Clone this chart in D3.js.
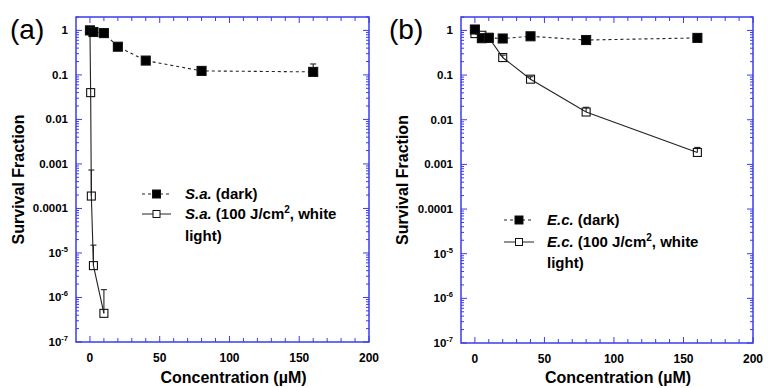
<!DOCTYPE html>
<html>
<head>
<meta charset="utf-8">
<script src="https://cdn.jsdelivr.net/npm/d3@7"></script>
<style>
html,body{margin:0;padding:0;background:#fff;}
svg{display:block;font-family:"Liberation Sans",Arial,sans-serif;}
</style>
</head>
<body>
<svg id="chart" width="768" height="388"></svg>
<script>
// ---- Data ----
const concA_dark = [0, 2.5, 10, 20, 40, 80, 160];
const survA_dark = [1.0, 0.92, 0.87, 0.43, 0.21, 0.123, 0.117];
const upA_dark   = [null, null, null, null, null, null, 0.176];

const concA_light = [0, 0.5, 1, 2.5, 10];
const survA_light = [1.0, 0.04, 0.00019, 5.2e-6, 4.4e-7];
const upA_light   = [null, null, 0.00073, 1.5e-5, 1.5e-6];

const concB = [0, 5, 10, 20, 40, 80, 160];
const survB_dark  = [1.05, 0.67, 0.68, 0.66, 0.74, 0.61, 0.68];
const upB_dark    = [null, null, null, null, null, null, null];
const survB_light = [0.85, 0.78, 0.70, 0.247, 0.081, 0.0149, 0.00185];
const upB_light   = [null, null, null, 0.28, 0.092, 0.019, 0.0024];

const xTicks = [0, 50, 100, 150, 200];
const yTicks = [1, 0.1, 0.01, 0.001, 0.0001, 1e-5, 1e-6, 1e-7];
const yTickLabels = ["1", "0.1", "0.01", "0.001", "0.0001", "10|-5", "10|-6", "10|-7"];

const panels = [
  {label: "(a)", abbr: "S.a.", left: 76, right: 369, top: 17, bottom: 342,
   labelX: 10, ytitleX: 24,
   dark: {x: concA_dark, y: survA_dark, up: upA_dark},
   light: {x: concA_light, y: survA_light, up: upA_light},
   legend: {x1: 142, x2: 171, tx: 185, y1: 194, y2: 214, b1: 199, b2: 219, b3: 241}},
  {label: "(b)", abbr: "E.c.", left: 461, right: 753, top: 17, bottom: 343,
   labelX: 389, ytitleX: 408,
   dark: {x: concB, y: survB_dark, up: upB_dark},
   light: {x: concB, y: survB_light, up: upB_light},
   legend: {x1: 504, x2: 534, tx: 547, y1: 220, y2: 242, b1: 225, b2: 247, b3: 268}}
];

const svg = d3.select("#chart");
const BLUE = "#3b3bf0";

panels.forEach(p => {
  const g = svg.append("g");
  const x = d3.scaleLinear().domain([-10, 200]).range([p.left, p.right]);
  const y = d3.scaleLog().domain([1e-7, 2]).range([p.bottom, p.top]);

  // frame
  g.append("rect").attr("x", p.left).attr("y", p.top)
    .attr("width", p.right - p.left).attr("height", p.bottom - p.top)
    .attr("fill", "none").attr("stroke", BLUE).attr("stroke-width", 1.5);

  // x ticks (bottom & top, inward)
  const xt = d3.range(0, 201, 10);
  xt.forEach(v => {
    const len = (v % 50 === 0) ? 6 : 4;
    g.append("line").attr("x1", x(v)).attr("x2", x(v))
      .attr("y1", p.bottom).attr("y2", p.bottom - len).attr("stroke", BLUE);
    g.append("line").attr("x1", x(v)).attr("x2", x(v))
      .attr("y1", p.top).attr("y2", p.top + len).attr("stroke", BLUE);
  });
  // y ticks
  const minor = [];
  for (let e = -7; e <= 0; e++) for (let m = 1; m <= 9; m++) {
    const v = m * Math.pow(10, e);
    if (v <= 2 && v >= 1e-7) minor.push({v, major: m === 1});
  }
  minor.forEach(t => {
    const len = t.major ? 6 : 3;
    g.append("line").attr("x1", p.left).attr("x2", p.left + len)
      .attr("y1", y(t.v)).attr("y2", y(t.v)).attr("stroke", BLUE);
    g.append("line").attr("x1", p.right).attr("x2", p.right - len)
      .attr("y1", y(t.v)).attr("y2", y(t.v)).attr("stroke", BLUE);
  });

  // x tick labels
  xTicks.forEach(v => {
    g.append("text").attr("x", x(v)).attr("y", p.bottom + 20)
      .attr("text-anchor", "middle").attr("font-size", 12).attr("font-weight", "bold")
      .text(v);
  });
  // y tick labels
  yTicks.forEach((v, i) => {
    const lab = yTickLabels[i];
    const t = g.append("text").attr("x", p.left - 8).attr("y", y(v) + 4)
      .attr("text-anchor", "end").attr("font-size", 11.5).attr("font-weight", "bold");
    if (lab.includes("|")) {
      const [base, exp] = lab.split("|");
      t.append("tspan").text(base);
      t.append("tspan").attr("font-size", 7.5).attr("dy", -5).text(exp);
    } else t.text(lab);
  });

  // axis titles
  g.append("text").attr("x", (p.left + p.right) / 2 + 11).attr("y", 383)
    .attr("text-anchor", "middle").attr("font-size", 16).attr("font-weight", "bold")
    .text("Concentration (\u00B5M)");
  g.append("text").attr("transform", `translate(${p.ytitleX},${(p.top + p.bottom) / 2}) rotate(-90)`)
    .attr("text-anchor", "middle").attr("font-size", 16).attr("font-weight", "bold")
    .text("Survival Fraction");
  g.append("text").attr("x", p.labelX).attr("y", 39).attr("font-size", 28)
    .text(p.label);

  const line = d3.line().x(d => x(d[0])).y(d => y(d[1]));

  function drawSeries(s, filled) {
    const pts = s.x.map((c, i) => [c, s.y[i], s.up[i]]);
    // error bars (upper)
    pts.filter(d => d[2] != null).forEach(d => {
      g.append("line").attr("x1", x(d[0])).attr("x2", x(d[0]))
        .attr("y1", y(d[1])).attr("y2", y(d[2])).attr("stroke", "#222").attr("stroke-width", 1.1);
      g.append("line").attr("x1", x(d[0]) - 3).attr("x2", x(d[0]) + 3)
        .attr("y1", y(d[2])).attr("y2", y(d[2])).attr("stroke", "#222").attr("stroke-width", 1.1);
    });
    g.append("path").datum(pts).attr("d", line).attr("fill", "none")
      .attr("stroke", "#222").attr("stroke-width", 1.1)
      .attr("stroke-dasharray", filled ? "3,3" : null);
    const sz = filled ? 9 : 8;
    g.selectAll(null).data(pts).enter().append("rect")
      .attr("x", d => x(d[0]) - sz / 2).attr("y", d => y(d[1]) - sz / 2)
      .attr("width", sz).attr("height", sz)
      .attr("fill", filled ? "#000" : "none").attr("stroke", "#111").attr("stroke-width", 1.1);
  }
  drawSeries(p.light, false);
  drawSeries(p.dark, true);

  // legend
  const L = p.legend;
  const lg = g.append("g");
  lg.append("line").attr("x1", L.x1).attr("x2", L.x2).attr("y1", L.y1).attr("y2", L.y1)
    .attr("stroke", "#222").attr("stroke-dasharray", "3,3");
  lg.append("rect").attr("x", (L.x1 + L.x2) / 2 - 4).attr("y", L.y1 - 4).attr("width", 8).attr("height", 8)
    .attr("fill", "#000").attr("stroke", "#111");
  lg.append("line").attr("x1", L.x1).attr("x2", L.x2).attr("y1", L.y2).attr("y2", L.y2)
    .attr("stroke", "#222");
  lg.append("rect").attr("x", (L.x1 + L.x2) / 2 - 3.5).attr("y", L.y2 - 3.5).attr("width", 7).attr("height", 7)
    .attr("fill", "#fff").attr("stroke", "#111");
  const t1 = lg.append("text").attr("x", L.tx).attr("y", L.b1).attr("font-size", 15).attr("font-weight", "bold");
  t1.append("tspan").attr("font-style", "italic").text(p.abbr);
  t1.append("tspan").text(" (dark)");
  const t2 = lg.append("text").attr("x", L.tx).attr("y", L.b2).attr("font-size", 15).attr("font-weight", "bold");
  t2.append("tspan").attr("font-style", "italic").text(p.abbr);
  t2.append("tspan").text(" (100 J/cm");
  t2.append("tspan").attr("font-size", 10).attr("dy", -6).text("2");
  t2.append("tspan").attr("dy", 6).text(", white");
  lg.append("text").attr("x", L.tx).attr("y", L.b3).attr("font-size", 15).attr("font-weight", "bold")
    .text("light)");
});
</script>
</body>
</html>
